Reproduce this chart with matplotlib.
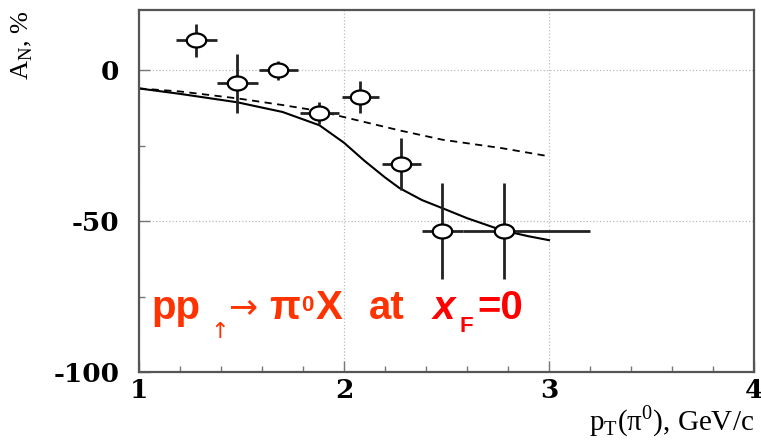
import numpy as np
import matplotlib
matplotlib.use('Agg')
import matplotlib.pyplot as plt
from matplotlib.path import Path
from matplotlib.ticker import MultipleLocator

plt.rcParams['axes.unicode_minus'] = False

# measured points: pT (GeV/c), A_N (%)
pt = [1.28, 1.48, 1.68, 1.88, 2.08, 2.28, 2.48, 2.78]
an = [9.9, -4.3, 0.0, -14.2, -9.0, -31.0, -53.3, -53.3]
an_err = [5.6, 9.8, 3.2, 3.7, 5.3, 8.6, 16.0, 16.0]
pt_err_lo = [0.1, 0.1, 0.095, 0.095, 0.09, 0.095, 0.1, 0.2]
pt_err_hi = [0.1, 0.1, 0.095, 0.095, 0.09, 0.095, 0.1, 0.42]

# model curves
solid_x = [1.0, 1.2, 1.48, 1.7, 1.88, 2.0, 2.1, 2.2, 2.27, 2.38, 2.48, 2.6, 2.77, 2.9, 3.0]
solid_y = [-6.0, -7.8, -10.6, -13.8, -18.2, -24.0, -30.0, -35.5, -39.0, -43.0, -45.7, -49.0, -53.0, -55.0, -56.3]
dash_x = [1.0, 1.2, 1.48, 1.7, 1.88, 2.0, 2.27, 2.48, 2.77, 3.0]
dash_y = [-6.0, -7.0, -9.3, -11.5, -13.5, -15.5, -19.9, -23.0, -25.8, -28.5]

fig = plt.figure(figsize=(7.61, 4.40), dpi=100)
ax = fig.add_axes([139 / 761, 1 - 372 / 440, 615 / 761, 362 / 440])

# flattened open ellipse marker
t = np.linspace(0, 2 * np.pi, 40)
ellipse = Path(np.column_stack([np.cos(t), 0.72 * np.sin(t)]))

ax.plot(solid_x, solid_y, color='black', lw=1.5, zorder=2)
ax.plot(dash_x, dash_y, color='black', lw=1.3, dashes=(4, 3), zorder=2)
ax.errorbar(pt, an, yerr=an_err, xerr=[pt_err_lo, pt_err_hi], fmt='none',
            ecolor='#222222', elinewidth=2.0, capsize=0, zorder=3)
ax.plot(pt, an, linestyle='none', marker=ellipse, ms=14, mfc='white',
        mec='black', mew=1.6, zorder=4)

ax.set_xlim(1, 4)
ax.set_ylim(-100, 20)
ax.xaxis.set_major_locator(MultipleLocator(1))
ax.xaxis.set_minor_locator(MultipleLocator(0.2))
ax.yaxis.set_major_locator(MultipleLocator(50))
ax.yaxis.set_minor_locator(MultipleLocator(25))
ax.grid(True, which='major', color='#bbbbbb', linestyle=':', lw=0.9)
ax.tick_params(which='both', direction='in', color='#777777')
ax.tick_params(which='major', length=8, width=1)
ax.tick_params(which='minor', length=4, width=1)
ax.tick_params(axis='y', pad=14)
ax.tick_params(axis='x', pad=4)
for s in ax.spines.values():
    s.set_color('#555555')
    s.set_linewidth(1.6)

for lab in ax.get_xticklabels() + ax.get_yticklabels():
    lab.set_fontfamily('DejaVu Serif')
    lab.set_fontweight('bold')
    lab.set_fontsize(19)

# axis titles
fig.text(754 / 761, 1 - 421 / 440, 'p$_\\mathregular{T}$(\u03c0$^\\mathregular{0}$), GeV/c',
         ha='right', va='center', fontsize=21, family='Liberation Serif')
fig.text(22 / 761, 1 - 45 / 440, r'A$_\mathregular{N}$, %', rotation=90,
         ha='center', va='center', fontsize=19, family='Liberation Serif')

# reaction label
orange = '#ff3300'
red = '#ff0000'
fam = ['Liberation Sans', 'DejaVu Sans']
def put(xp, yp, s, size, color, style='normal', weight='bold', family=fam):
    fig.text(xp / 761, 1 - yp / 440, s, fontsize=size, color=color, family=family,
             fontweight=weight, fontstyle=style, ha='left', va='baseline')

put(151, 319, 'pp', 29, orange)
put(210, 338, '\u2191', 16, orange, weight='normal', family='DejaVu Sans')
put(228, 317, '\u2192', 25, orange, weight='normal', family='DejaVu Sans')
put(269, 319, '\u03c0', 29, orange)
put(301, 311, '0', 16, orange)
put(316, 319, 'X', 29, orange)
put(369, 319, 'at', 29, orange)
put(433, 319, 'x', 29, red, style='italic')
put(459, 332, 'F', 16, red)
put(477, 319, '=0', 29, red)

fig.savefig('out.png', dpi=100)
